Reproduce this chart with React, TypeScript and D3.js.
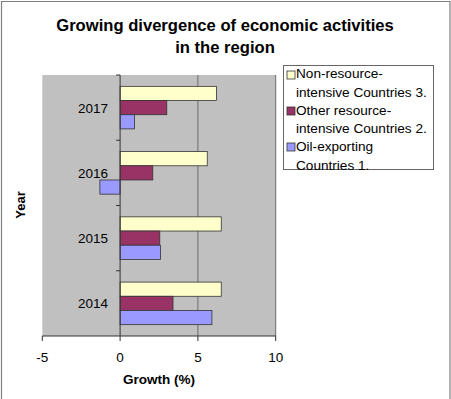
import React from 'react';
import * as d3 from 'd3';

const years = ['2014', '2015', '2016', '2017'];
const seriesNames = ['Non-resource-intensive Countries 3.', 'Other resource-intensive Countries 2.', 'Oil-exporting Countries 1.'];
const nonResource = [6.5, 6.5, 5.6, 6.2];
const otherResource = [3.4, 2.55, 2.1, 3.0];
const oilExporting = [5.9, 2.6, -1.3, 0.92];
const xTicks = [-5, 0, 5, 10];
const legendLines = [['Non-resource-', 'intensive Countries 3.'], ['Other resource-', 'intensive Countries 2.'], ['Oil-exporting', 'Countries 1.']];

const colors = ['#FFFFCC', '#993366', '#9999FF'];

const W = 451;
const H = 399;

export default function App() {
  // plot area
  const left = 42.3;
  const right = 275.7;
  const top = 75;
  const bottom = 336;

  const x = d3.scaleLinear().domain([-5, 10]).range([left, right]);
  // 2014 at the bottom
  const y = d3.scaleBand().domain([...years].reverse()).range([top, bottom]);
  const inner = d3.scaleBand().domain(seriesNames).range([0, y.bandwidth()]).paddingOuter(0.8).paddingInner(0);

  const series = [nonResource, otherResource, oilExporting];
  const font = 'Liberation Sans, Arial, sans-serif';

  return (
    <div>
      <style>{'body{margin:0}'}</style>
      <svg width={W} height={H} style={{ display: 'block' }} fontFamily={font}>
        <rect width={W} height={H} fill="#fff" />
        {/* outer frame */}
        <path d={`M1.5,${H} V1.5 H450 V${H}`} fill="none" stroke="#808080" strokeWidth={1.2} />

        <text x={225} y={31} textAnchor="middle" fontSize={16.6} fontWeight="bold">Growing divergence of economic activities</text>
        <text x={225} y={53} textAnchor="middle" fontSize={16.6} fontWeight="bold">in the region</text>

        {/* plot area */}
        <rect x={left} y={top} width={right - left} height={bottom - top} fill="#C0C0C0" />
        {xTicks.filter((t) => t > 0).map((t) => (
          <line key={t} x1={x(t)} x2={x(t)} y1={top} y2={bottom} stroke="#6b6b6b" strokeWidth={1} />
        ))}

        {years.map((yr, i) =>
          series.map((s, j) => {
            const v = s[i];
            const by = (y(yr) as number) + (inner(seriesNames[j]) as number);
            return (
              <rect
                key={yr + j}
                x={x(Math.min(0, v))}
                y={by}
                width={Math.abs(x(v) - x(0))}
                height={inner.bandwidth()}
                fill={colors[j]}
                stroke="#333"
                strokeWidth={0.8}
              />
            );
          })
        )}

        {/* category axis at zero */}
        <line x1={x(0)} x2={x(0)} y1={top} y2={bottom} stroke="#333" strokeWidth={1} />
        {y.domain().map((yr, i) => (
          <line key={'t' + yr} x1={x(0) - 4} x2={x(0)} y1={top + i * y.bandwidth()} y2={top + i * y.bandwidth()} stroke="#333" />
        ))}
        {years.map((yr) => (
          <text key={'l' + yr} x={108} y={(y(yr) as number) + y.bandwidth() / 2 + 5} textAnchor="end" fontSize={13.5}>{yr}</text>
        ))}

        {/* value axis */}
        <line x1={left} x2={right} y1={bottom} y2={bottom} stroke="#333" />
        {xTicks.map((t) => (
          <g key={'x' + t}>
            <line x1={x(t)} x2={x(t)} y1={bottom} y2={bottom + 5} stroke="#333" />
            <text x={x(t)} y={362} textAnchor="middle" fontSize={13.5}>{t}</text>
          </g>
        ))}
        <text x={159} y={384} textAnchor="middle" fontSize={13.5} fontWeight="bold">Growth (%)</text>
        <text transform="translate(25,205) rotate(-90)" textAnchor="middle" fontSize={13} fontWeight="bold">Year</text>

        {/* legend */}
        <rect x={283.5} y={65.5} width={150} height={104} fill="#fff" stroke="#666" strokeWidth={1} />
        {legendLines.map((lines, j) => (
          <g key={'lg' + j}>
            <rect x={287} y={71 + j * 36} width={8} height={8} fill={colors[j]} stroke="#333" strokeWidth={0.8} />
            {lines.map((ln, k) => (
              <text key={k} x={296} y={78 + j * 36.5 + k * 18.5} fontSize={13.6}>{ln}</text>
            ))}
          </g>
        ))}
      </svg>
    </div>
  );
}
